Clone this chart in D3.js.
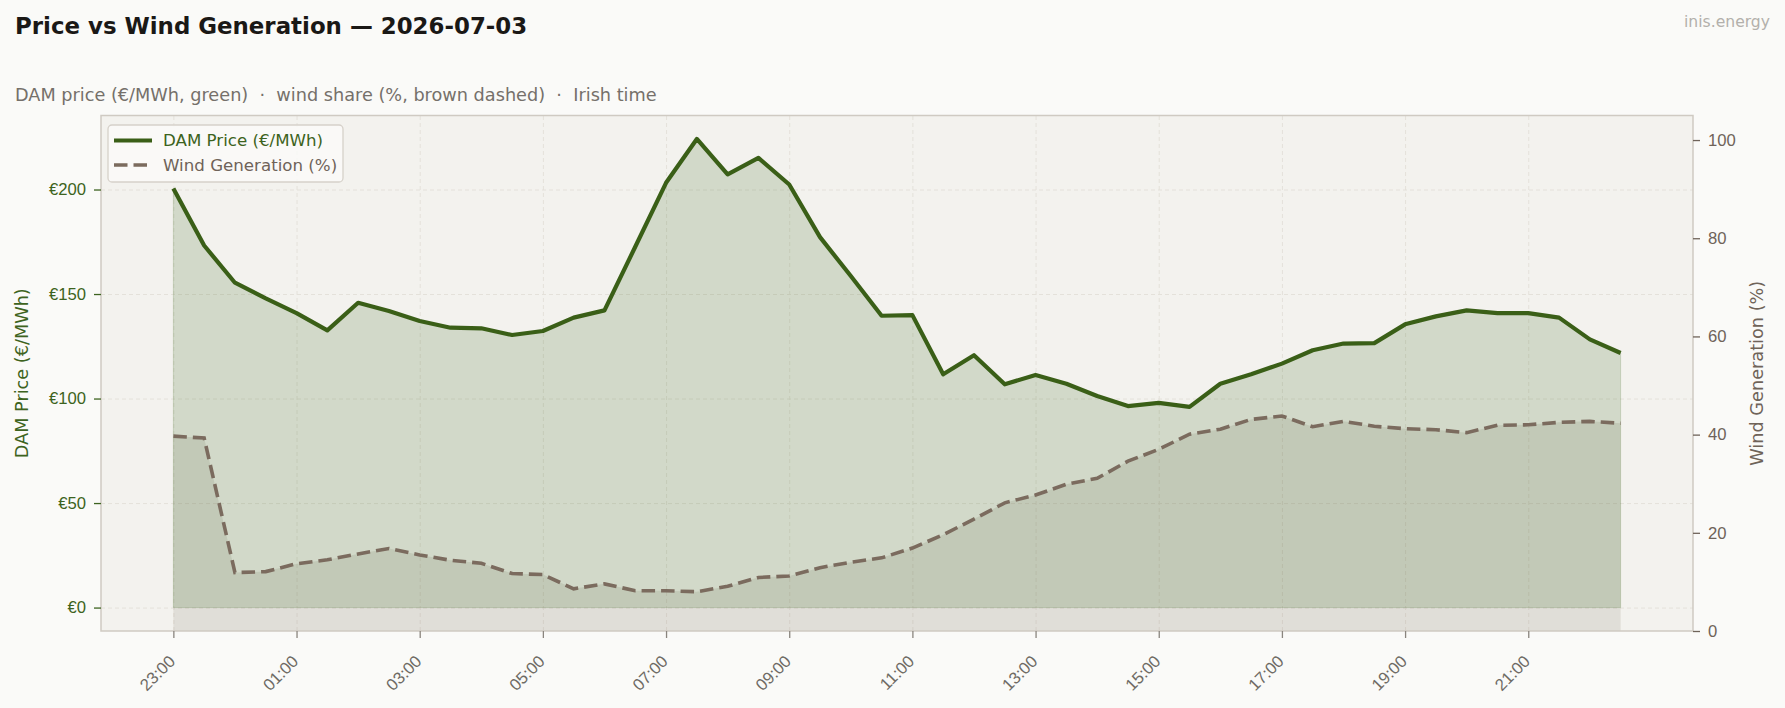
<!DOCTYPE html>
<html lang="en">
<head>
<meta charset="utf-8">
<title>Price vs Wind Generation</title>
<script src="https://cdn.jsdelivr.net/npm/d3@7"></script>
<style>
body { margin: 0; background: #fafaf8; }
svg { display: block; font-family: "DejaVu Sans", sans-serif; }
.grid line { stroke: #e4e1da; stroke-width: 1; stroke-dasharray: 4,3; }
.grid path { display: none; }
</style>
</head>
<body>
<script>
// half-hourly slots, Irish time (first two belong to the previous day)
var slots = ["23:00","23:30","00:00","00:30","01:00","01:30","02:00","02:30","03:00","03:30",
  "04:00","04:30","05:00","05:30","06:00","06:30","07:00","07:30","08:00","08:30",
  "09:00","09:30","10:00","10:30","11:00","11:30","12:00","12:30","13:00","13:30",
  "14:00","14:30","15:00","15:30","16:00","16:30","17:00","17:30","18:00","18:30",
  "19:00","19:30","20:00","20:30","21:00","21:30","22:00","22:30"];

// DAM price, EUR/MWh
var price = [200.5, 173.2, 155.4, 147.9, 140.9, 132.6, 145.8, 141.9, 137.1, 133.9,
  133.6, 130.4, 132.3, 138.7, 142.2, 172.6, 203.2, 224.2, 207.2, 215.1,
  202.4, 177.2, 158.6, 139.6, 139.9, 111.6, 120.7, 106.8, 111.3, 107.1,
  101.2, 96.4, 97.9, 96.0, 107.1, 111.6, 116.7, 123.1, 126.3, 126.5,
  135.5, 139.3, 142.2, 140.9, 140.9, 138.7, 128.3, 121.8];

// wind share of generation, %
var wind = [39.7, 39.3, 11.9, 12.1, 13.7, 14.5, 15.7, 16.8, 15.5, 14.4,
  13.8, 11.7, 11.5, 8.6, 9.6, 8.2, 8.2, 8.0, 9.1, 10.9,
  11.2, 12.9, 14.0, 14.9, 16.9, 19.6, 22.8, 26.1, 27.7, 29.9,
  31.1, 34.6, 37.0, 40.1, 41.1, 43.1, 43.8, 41.6, 42.7, 41.7,
  41.2, 41.0, 40.4, 41.9, 42.0, 42.5, 42.7, 42.3];

var xTicks = ["23:00","01:00","03:00","05:00","07:00","09:00","11:00","13:00","15:00","17:00","19:00","21:00"];
var priceTicks = [0, 50, 100, 150, 200];
var windTicks = [0, 20, 40, 60, 80, 100];

var GREEN = "#3a5f17", GREEN_TXT = "#3d6320", BROWN = "#7b6b5e", BROWN_TXT = "#6f6359", GREY_TXT = "#6e6a64";

var W = 1785, H = 708;
var plot = {left: 101, right: 1693, top: 115.5, bottom: 631};

function toDate(s) {
  var hm = s.split(":").map(Number);
  var day = hm[0] >= 23 ? 2 : 3;
  return new Date(2026, 6, day, hm[0], hm[1]);
}

var data = slots.map(function(s, i) {
  return {t: toDate(s), price: price[i], wind: wind[i]};
});

var svg = d3.select("body").append("svg")
  .attr("width", W).attr("height", H);

svg.append("rect").attr("width", W).attr("height", H).attr("fill", "#fafaf8");

// x domain padded by 5% like the original
var ext = d3.extent(data, function(d) { return d.t; });
var pad = (ext[1] - ext[0]) * 0.05;
var x = d3.scaleTime()
  .domain([new Date(+ext[0] - pad), new Date(+ext[1] + pad)])
  .range([plot.left, plot.right]);

var pmax = d3.max(price);
var yP = d3.scaleLinear()
  .domain([-pmax * 0.05, pmax * 1.05])
  .range([plot.bottom, plot.top]);

var yW = d3.scaleLinear()
  .domain([0, 105])
  .range([plot.bottom, plot.top]);

// plot background
svg.append("rect")
  .attr("x", plot.left).attr("y", plot.top)
  .attr("width", plot.right - plot.left).attr("height", plot.bottom - plot.top)
  .attr("fill", "#f3f2ee");

// grid
svg.append("g").attr("class", "grid")
  .attr("transform", "translate(0," + plot.bottom + ")")
  .call(d3.axisBottom(x).tickValues(xTicks.map(toDate)).tickSize(-(plot.bottom - plot.top)).tickFormat(""));
svg.append("g").attr("class", "grid")
  .attr("transform", "translate(" + plot.left + ",0)")
  .call(d3.axisLeft(yP).tickValues(priceTicks).tickSize(-(plot.right - plot.left)).tickFormat(""));

// wind area (right axis) down to 0 %
var windArea = d3.area()
  .x(function(d) { return x(d.t); })
  .y0(yW(0))
  .y1(function(d) { return yW(d.wind); });
svg.append("path").datum(data)
  .attr("d", windArea)
  .attr("fill", BROWN).attr("fill-opacity", 0.15);

// price area down to 0 EUR
var priceArea = d3.area()
  .x(function(d) { return x(d.t); })
  .y0(yP(0))
  .y1(function(d) { return yP(d.price); });
svg.append("path").datum(data)
  .attr("d", priceArea)
  .attr("fill", "#3d6b1f").attr("fill-opacity", 0.18)
  .attr("stroke", "#3d6b1f").attr("stroke-opacity", 0.18).attr("stroke-width", 1);

// wind line
svg.append("path").datum(data)
  .attr("d", d3.line().x(function(d) { return x(d.t); }).y(function(d) { return yW(d.wind); }))
  .attr("fill", "none").attr("stroke", BROWN).attr("stroke-width", 3.6)
  .attr("stroke-dasharray", "13.5,6");

// price line
svg.append("path").datum(data)
  .attr("d", d3.line().x(function(d) { return x(d.t); }).y(function(d) { return yP(d.price); }))
  .attr("fill", "none").attr("stroke", GREEN).attr("stroke-width", 4.2)
  .attr("stroke-linejoin", "round");

// frame
svg.append("rect")
  .attr("x", plot.left).attr("y", plot.top)
  .attr("width", plot.right - plot.left).attr("height", plot.bottom - plot.top)
  .attr("fill", "none").attr("stroke", "#cfcac2").attr("stroke-width", 1.5);

// x axis
var xAxis = svg.append("g")
  .attr("transform", "translate(0," + plot.bottom + ")")
  .call(d3.axisBottom(x).tickValues(xTicks.map(toDate)).tickSize(7).tickFormat(d3.timeFormat("%H:%M")));
xAxis.select(".domain").remove();
xAxis.selectAll(".tick line").attr("stroke", "#8a857e").attr("stroke-width", 1.3);
xAxis.selectAll(".tick text")
  .attr("fill", GREY_TXT).attr("font-size", 16.67)
  .attr("text-anchor", "end")
  .attr("y", 0).attr("dy", 0)
  .attr("transform", "translate(-4,25) rotate(-45) translate(0,9)");

// left axis
var yAxisL = svg.append("g")
  .attr("transform", "translate(" + plot.left + ",0)")
  .call(d3.axisLeft(yP).tickValues(priceTicks).tickSize(7).tickPadding(8).tickFormat(function(d) { return "\u20ac" + d; }));
yAxisL.select(".domain").remove();
yAxisL.selectAll(".tick line").attr("stroke", GREEN_TXT).attr("stroke-width", 1.3);
yAxisL.selectAll(".tick text").attr("fill", GREEN_TXT).attr("font-size", 16.67);

// right axis
var yAxisR = svg.append("g")
  .attr("transform", "translate(" + plot.right + ",0)")
  .call(d3.axisRight(yW).tickValues(windTicks).tickSize(7).tickPadding(8));
yAxisR.select(".domain").remove();
yAxisR.selectAll(".tick line").attr("stroke", BROWN_TXT).attr("stroke-width", 1.3);
yAxisR.selectAll(".tick text").attr("fill", BROWN_TXT).attr("font-size", 16.67);

// axis titles
var midY = (plot.top + plot.bottom) / 2;
svg.append("text")
  .attr("transform", "translate(28," + midY + ") rotate(-90)")
  .attr("text-anchor", "middle").attr("font-size", 17.7).attr("fill", GREEN_TXT)
  .text("DAM Price (\u20ac/MWh)");
svg.append("text")
  .attr("transform", "translate(1763," + midY + ") rotate(-90)")
  .attr("text-anchor", "middle").attr("font-size", 17.7).attr("fill", BROWN_TXT)
  .text("Wind Generation (%)");

// titles
svg.append("text").attr("x", 15).attr("y", 34)
  .attr("font-size", 22.9).attr("font-weight", "bold").attr("fill", "#1a1816")
  .text("Price vs Wind Generation \u2014 2026-07-03");
svg.append("text").attr("x", 15).attr("y", 101)
  .attr("font-size", 17.7).attr("fill", "#75706a")
  .text("DAM price (\u20ac/MWh, green)  \u00b7  wind share (%, brown dashed)  \u00b7  Irish time")
  .style("white-space", "pre");
svg.append("text").attr("x", 1770).attr("y", 27)
  .attr("text-anchor", "end").attr("font-size", 15.6).attr("fill", "#b3b0ab")
  .text("inis.energy");

// legend
var lg = svg.append("g").attr("transform", "translate(108,125)");
lg.append("rect").attr("width", 235).attr("height", 57).attr("rx", 4)
  .attr("fill", "#fafaf8").attr("fill-opacity", 0.85)
  .attr("stroke", "#d6d1ca").attr("stroke-width", 1.3);
var legendItems = [
  {label: "DAM Price (\u20ac/MWh)", color: GREEN, text: GREEN_TXT, dash: null, w: 4.2},
  {label: "Wind Generation (%)", color: BROWN, text: BROWN_TXT, dash: "13.5,6", w: 3.6}
];
legendItems.forEach(function(it, i) {
  var cy = 15.5 + i * 24.5;
  lg.append("line").attr("x1", 6).attr("x2", 44).attr("y1", cy).attr("y2", cy)
    .attr("stroke", it.color).attr("stroke-width", it.w)
    .attr("stroke-dasharray", it.dash);
  lg.append("text").attr("x", 55).attr("y", cy).attr("dy", "0.35em")
    .attr("font-size", 16.67).attr("fill", it.text).text(it.label);
});
</script>
</body>
</html>
